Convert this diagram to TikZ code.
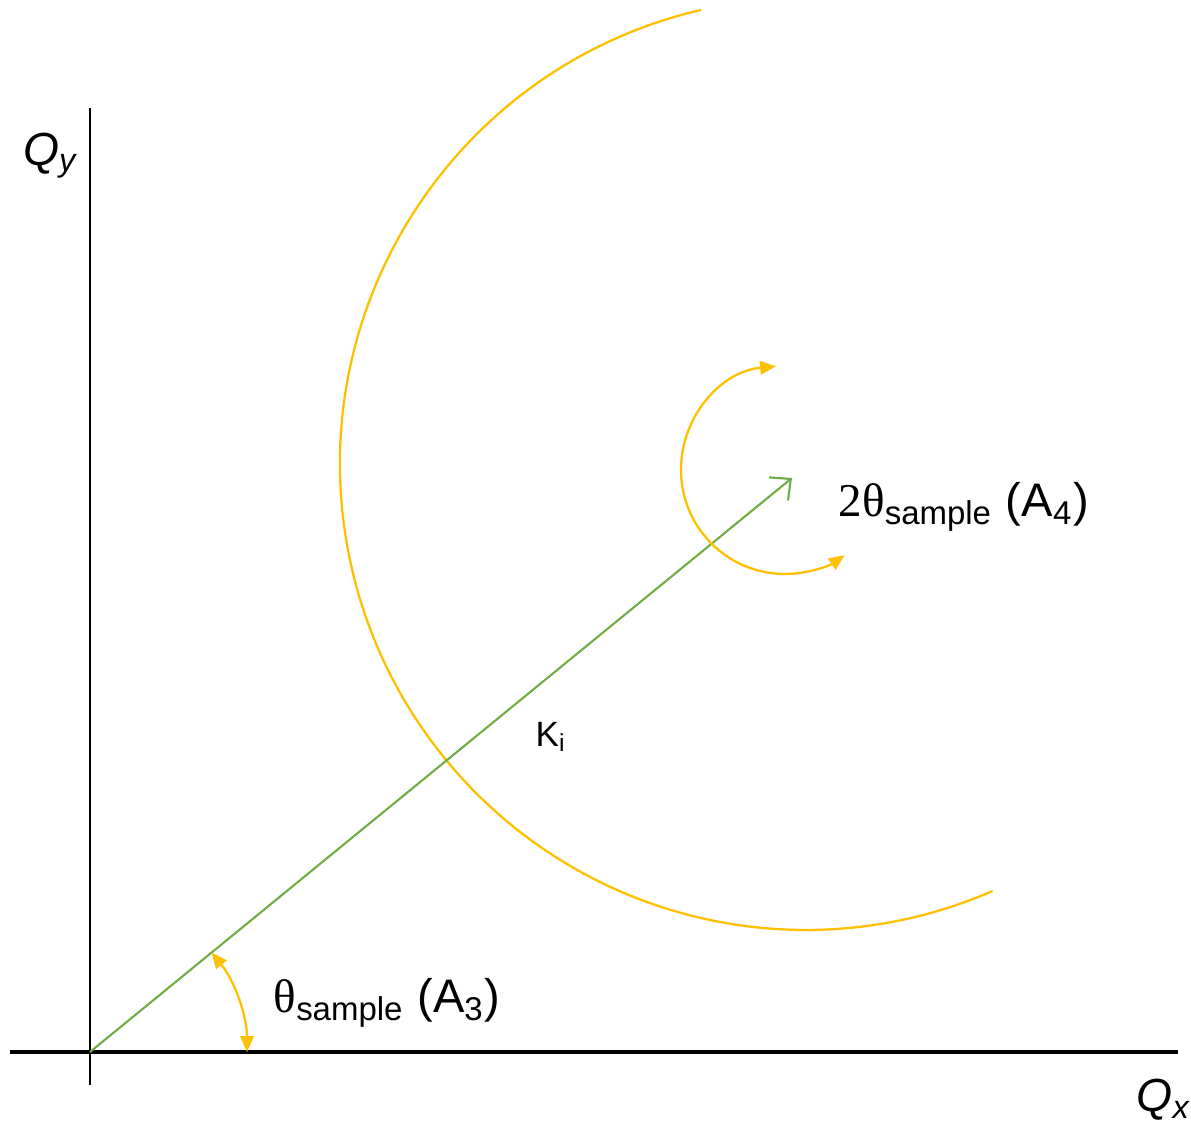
\documentclass[tikz,border=0pt]{standalone}
\usepackage{fontspec}
\setmainfont{Liberation Sans}
\newfontfamily\grk{Liberation Serif}
\usepackage{xcolor}
\usetikzlibrary{positioning,arrows.meta}
\definecolor{gold}{HTML}{FFC000}
\definecolor{leaf}{HTML}{70AD47}

\begin{document}
\begin{tikzpicture}[
  axis/.style={draw=black},
  wave/.style={draw=leaf,line width=0.6pt,-{Straight Barb[length=4.5pt,width=8.5pt]}},
  swing/.style={draw=gold,line width=0.65pt},
  turn/.style={swing,{Triangle[length=4.5pt,width=3.8pt]}-{Triangle[length=4.5pt,width=3.8pt]}},
  big/.style={font=\fontsize{13.4}{16}\selectfont,inner sep=0pt},
  axlbl/.style={font=\fontsize{13.2}{16}\selectfont,inner sep=0pt},
  small/.style={font=\fontsize{10}{12}\selectfont,inner sep=0pt}
]
  \useasboundingbox (0,0) rectangle (11.91,11.32);
  \coordinate (O) at (0.90,0.80);
  \coordinate (tip) at (7.92,6.54);
  \coordinate (ring) at (8.06,6.68);
  \coordinate (spin) at (7.85,6.62);
  % axes
  \draw[axis,line width=1.1pt] (0.10,0.80) -- (11.78,0.80);
  \draw[axis,line width=0.75pt] (0.90,10.24) -- (0.90,0.47);
  \node[axlbl] (qy) at (0.51,9.76) {\textit{Q}\textsubscript{\textit{y}}};
  \node[axlbl] (qx) at (11.64,0.32) {\textit{Q}\textsubscript{\textit{x}}};
  % scattering circle and incident beam
  \draw[swing] (ring) ++(103:4.66) arc[start angle=103,end angle=293.6,radius=4.66];
  \draw[wave] (O) -- (tip);
  \node[small] (ki) at (5.51,3.95) {K\textsubscript{i}};
  % angles
  \draw[turn] (O) ++(0:1.57) arc[start angle=0,end angle=39.3,radius=1.57];
  \draw[turn] (spin) ++(95:1.04) arc[start angle=95,end angle=305,radius=1.04];
  \node[big,anchor=west] (a3) at (2.73,1.29) {{\grk θ}\textsubscript{sample} (A\textsubscript{3})};
  \node[big,anchor=west] (a4) at (8.38,6.25) {{\grk 2θ}\textsubscript{sample} (A\textsubscript{4})};
\end{tikzpicture}
\end{document}
